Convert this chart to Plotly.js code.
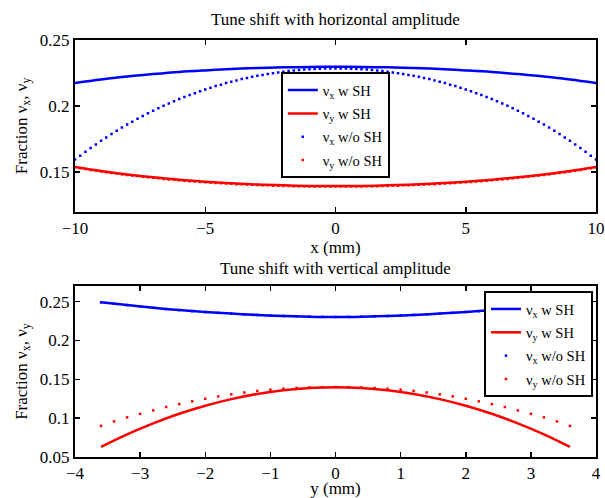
<!DOCTYPE html>
<html>
<head>
<meta charset="utf-8">
<script src="https://cdn.plot.ly/plotly-3.0.1.min.js"></script>
<style>html,body{margin:0;padding:0;background:#fff;}#chart{width:605px;height:498px;}</style>
</head>
<body>
<div id="chart"></div>
<script>
// ---- Top panel: tune shift with horizontal amplitude ----
const topLineX = [-10,-9,-8,-7,-6,-5,-4,-3,-2,-1,0,1,2,3,4,5,6,7,8,9,10];
const topNuxWithSH = [0.2175,0.2201,0.2224,0.2242,0.2258,0.2270,0.2280,0.2288,0.2293,0.2296,0.2297,0.2296,0.2293,0.2288,0.2280,0.2270,0.2258,0.2242,0.2224,0.2201,0.2175];
const topNuyWithSH = [0.1540,0.1509,0.1483,0.1461,0.1443,0.1428,0.1416,0.1406,0.1400,0.1396,0.1395,0.1396,0.1400,0.1406,0.1416,0.1428,0.1443,0.1461,0.1483,0.1509,0.1540];

const topDotX = [-10,-9.8,-9.6,-9.4,-9.2,-9,-8.8,-8.6,-8.4,-8.2,-8,-7.8,-7.6,-7.4,-7.2,-7,-6.8,-6.6,-6.4,-6.2,-6,-5.8,-5.6,-5.4,-5.2,-5,-4.8,-4.6,-4.4,-4.2,-4,-3.8,-3.6,-3.4,-3.2,-3,-2.8,-2.6,-2.4,-2.2,-2,-1.8,-1.6,-1.4,-1.2,-1,-0.8,-0.6,-0.4,-0.2,0,0.2,0.4,0.6,0.8,1,1.2,1.4,1.6,1.8,2,2.2,2.4,2.6,2.8,3,3.2,3.4,3.6,3.8,4,4.2,4.4,4.6,4.8,5,5.2,5.4,5.6,5.8,6,6.2,6.4,6.6,6.8,7,7.2,7.4,7.6,7.8,8,8.2,8.4,8.6,8.8,9,9.2,9.4,9.6,9.8,10];
const topNuxWithoutSH = [0.1595,0.1625,0.1654,0.1683,0.1710,0.1737,0.1763,0.1788,0.1813,0.1837,0.1860,0.1882,0.1904,0.1925,0.1945,0.1964,0.1983,0.2002,0.2019,0.2036,0.2053,0.2069,0.2084,0.2098,0.2112,0.2126,0.2138,0.2151,0.2162,0.2174,0.2184,0.2194,0.2204,0.2212,0.2221,0.2229,0.2236,0.2243,0.2249,0.2255,0.2260,0.2265,0.2269,0.2273,0.2276,0.2279,0.2281,0.2283,0.2284,0.2285,0.2285,0.2285,0.2284,0.2283,0.2281,0.2279,0.2276,0.2273,0.2269,0.2265,0.2260,0.2255,0.2249,0.2243,0.2236,0.2229,0.2221,0.2212,0.2204,0.2194,0.2184,0.2174,0.2162,0.2151,0.2138,0.2126,0.2112,0.2098,0.2084,0.2069,0.2053,0.2036,0.2019,0.2002,0.1983,0.1964,0.1945,0.1925,0.1904,0.1882,0.1860,0.1837,0.1813,0.1788,0.1763,0.1737,0.1710,0.1683,0.1654,0.1625,0.1595];
const topNuyWithoutSH = [0.1538,0.1530,0.1523,0.1517,0.1511,0.1505,0.1500,0.1494,0.1489,0.1484,0.1479,0.1474,0.1470,0.1465,0.1461,0.1457,0.1453,0.1449,0.1445,0.1442,0.1438,0.1435,0.1432,0.1429,0.1426,0.1423,0.1421,0.1418,0.1416,0.1414,0.1412,0.1409,0.1408,0.1406,0.1404,0.1402,0.1401,0.1400,0.1398,0.1397,0.1396,0.1395,0.1394,0.1393,0.1393,0.1392,0.1392,0.1391,0.1391,0.1391,0.1391,0.1391,0.1391,0.1391,0.1392,0.1392,0.1393,0.1393,0.1394,0.1395,0.1396,0.1397,0.1398,0.1400,0.1401,0.1402,0.1404,0.1406,0.1408,0.1409,0.1412,0.1414,0.1416,0.1418,0.1421,0.1423,0.1426,0.1429,0.1432,0.1435,0.1438,0.1442,0.1445,0.1449,0.1453,0.1457,0.1461,0.1465,0.1470,0.1474,0.1479,0.1484,0.1489,0.1494,0.1500,0.1505,0.1511,0.1517,0.1523,0.1530,0.1538];

// ---- Bottom panel: tune shift with vertical amplitude ----
const botLineY = [-3.6,-3.2,-2.8,-2.4,-2,-1.6,-1.2,-0.8,-0.4,0,0.4,0.8,1.2,1.6,2,2.4,2.8,3.2,3.6];
const botNuxWithSH = [0.2490,0.2455,0.2420,0.2390,0.2365,0.2345,0.2328,0.2315,0.2306,0.2302,0.2306,0.2315,0.2328,0.2345,0.2365,0.2390,0.2420,0.2455,0.2490];
const botNuyWithSH = [0.0629,0.0790,0.0932,0.1056,0.1160,0.1245,0.1312,0.1359,0.1388,0.1397,0.1388,0.1359,0.1312,0.1245,0.1160,0.1056,0.0932,0.0790,0.0629];

const botDotY = [-3.6,-3.4,-3.2,-3,-2.8,-2.6,-2.4,-2.2,-2,-1.8,-1.6,-1.4,-1.2,-1,-0.8,-0.6,-0.4,-0.2,0,0.2,0.4,0.6,0.8,1,1.2,1.4,1.6,1.8,2,2.2,2.4,2.6,2.8,3,3.2,3.4,3.6];
const botNuxWithoutSH = [0.2490,0.2472,0.2455,0.2437,0.2420,0.2405,0.2390,0.2377,0.2365,0.2355,0.2345,0.2336,0.2328,0.2321,0.2315,0.2310,0.2306,0.2303,0.2302,0.2303,0.2306,0.2310,0.2315,0.2321,0.2328,0.2336,0.2345,0.2355,0.2365,0.2377,0.2390,0.2405,0.2420,0.2437,0.2455,0.2472,0.2490];
const botNuyWithoutSH = [0.0900,0.0958,0.1010,0.1055,0.1100,0.1143,0.1180,0.1216,0.1249,0.1279,0.1306,0.1330,0.1350,0.1366,0.1379,0.1388,0.1395,0.1399,0.1400,0.1399,0.1395,0.1388,0.1379,0.1366,0.1350,0.1330,0.1306,0.1279,0.1249,0.1216,0.1180,0.1143,0.1100,0.1055,0.1010,0.0958,0.0900];

const seriesNames = ['ν<sub>x</sub> w SH','ν<sub>y</sub> w SH','ν<sub>x</sub> w/o SH','ν<sub>y</sub> w/o SH'];
const titles = ['Tune shift with horizontal amplitude','Tune shift with vertical amplitude'];
const yTitle = 'Fraction ν<sub>x</sub>, ν<sub>y</sub>';

const BLUE = '#0000ff', RED = '#ff0000';
const FONT = 'Liberation Serif, Times New Roman, serif';

function lineTrace(x, y, name, color, xa, ya, leg, rank) {
  return {x, y, name, type:'scatter', mode:'lines', line:{color, width:2.5, shape:'spline'},
          xaxis:xa, yaxis:ya, legend:leg, legendrank:rank, legendgroup:leg + '_' + rank};
}
function dotTrace(x, y, name, color, xa, ya, leg, rank) {
  return {x, y, name, type:'scatter', mode:'markers', marker:{color, size:2.5, symbol:'square'},
          xaxis:xa, yaxis:ya, legend:leg, legendrank:rank, legendgroup:leg + '_' + rank};
}

const data = [
  dotTrace(topDotX, topNuxWithoutSH, seriesNames[2], BLUE, 'x', 'y', 'legend', 3),
  dotTrace(topDotX, topNuyWithoutSH, seriesNames[3], RED, 'x', 'y', 'legend', 4),
  lineTrace(topLineX, topNuxWithSH, seriesNames[0], BLUE, 'x', 'y', 'legend', 1),
  lineTrace(topLineX, topNuyWithSH, seriesNames[1], RED, 'x', 'y', 'legend', 2),
  dotTrace(botDotY, botNuxWithoutSH, seriesNames[2], BLUE, 'x2', 'y2', 'legend2', 3),
  dotTrace(botDotY, botNuyWithoutSH, seriesNames[3], RED, 'x2', 'y2', 'legend2', 4),
  lineTrace(botLineY, botNuxWithSH, seriesNames[0], BLUE, 'x2', 'y2', 'legend2', 1),
  lineTrace(botLineY, botNuyWithSH, seriesNames[1], RED, 'x2', 'y2', 'legend2', 2)
];

const axisCommon = {
  showline:true, linecolor:'#000', linewidth:2, mirror:'allticks',
  ticks:'inside', ticklen:5, tickwidth:1.5, tickcolor:'#000',
  showgrid:false, zeroline:false,
  tickfont:{family:FONT, size:17, color:'#000'}
};

const legendCommon = {
  bgcolor:'#fff', bordercolor:'#000', borderwidth:2,
  font:{family:FONT, size:14.5, color:'#000'},
  xanchor:'left', yanchor:'top', tracegroupgap:1.5, itemwidth:30
};

const layout = {
  width:605, height:498,
  paper_bgcolor:'#fff', plot_bgcolor:'#fff',
  margin:{l:75, r:9, t:40, b:41},
  font:{family:FONT, color:'#000'},
  xaxis: Object.assign({}, axisCommon, {domain:[0,1], anchor:'y', range:[-10,10], dtick:5, tick0:0,
          title:{text:'x (mm)', font:{family:FONT, size:17}, standoff:0}}),
  yaxis: Object.assign({}, axisCommon, {domain:[0.588,1], anchor:'x', range:[0.12,0.25], tickvals:[0.15,0.2,0.25],
          title:{text:yTitle, font:{family:FONT, size:17}, standoff:8}}),
  xaxis2: Object.assign({}, axisCommon, {domain:[0,1], anchor:'y2', range:[-4,4], dtick:1, tick0:0,
          title:{text:'y (mm)', font:{family:FONT, size:17}, standoff:0}}),
  yaxis2: Object.assign({}, axisCommon, {domain:[0,0.41], anchor:'x2', range:[0.05,0.27], tickvals:[0.05,0.1,0.15,0.2,0.25],
          title:{text:yTitle, font:{family:FONT, size:17}, standoff:8}}),
  legend: Object.assign({}, legendCommon, {x:0.395, y:0.923}),
  legend2: Object.assign({}, legendCommon, {x:0.785, y:0.398}),
  showlegend:true,
  annotations:[
    {text:titles[0], xref:'paper', yref:'paper', x:0.5, y:1.048, xanchor:'center', yanchor:'middle',
     showarrow:false, font:{family:FONT, size:17, color:'#000'}},
    {text:titles[1], xref:'paper', yref:'paper', x:0.5, y:0.453, xanchor:'center', yanchor:'middle',
     showarrow:false, font:{family:FONT, size:17, color:'#000'}}
  ]
};

Plotly.newPlot('chart', data, layout, {displayModeBar:false, staticPlot:true});
</script>
</body>
</html>
